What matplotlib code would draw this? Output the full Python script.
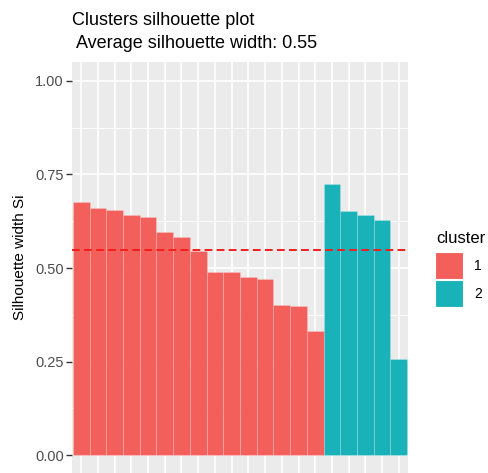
import numpy as np
import matplotlib.pyplot as plt
from matplotlib.patches import Rectangle

# Silhouette widths per observation, sorted within each cluster
sil_cluster1 = [0.675, 0.660, 0.655, 0.642, 0.635, 0.597, 0.584, 0.546,
                0.490, 0.490, 0.476, 0.470, 0.402, 0.398, 0.333]
sil_cluster2 = [0.723, 0.653, 0.641, 0.629, 0.258]
cluster_names = ["1", "2"]
y_ticks = [0.00, 0.25, 0.50, 0.75, 1.00]
title_lines = ["Clusters silhouette plot", " Average silhouette width: 0.55"]

plt.rcParams['font.family'] = ['Liberation Sans', 'DejaVu Sans']

fill = {"1": "#F3605B", "2": "#18B2B8"}
panel_bg = "#EBEBEB"

widths = np.array(sil_cluster1 + sil_cluster2)
labels = ["1"] * len(sil_cluster1) + ["2"] * len(sil_cluster2)
x = np.arange(1, len(widths) + 1)
avg = widths.mean()

fig = plt.figure(figsize=(4.88, 4.73), dpi=100)
ax = fig.add_axes([72 / 488, -1 / 473, 336 / 488, 412 / 473])
ax.set_facecolor(panel_bg)

# grid (ggplot-like)
ax.set_yticks(y_ticks)
ax.set_yticks([0.125, 0.375, 0.625, 0.875], minor=True)
ax.set_xticks(x)
ax.grid(which="major", color="white", lw=1.2)
ax.grid(which="minor", axis="y", color="white", lw=0.6)
ax.set_axisbelow(True)

ax.bar(x, widths, width=1.0, color=[fill[c] for c in labels],
       edgecolor=(1, 1, 1, 0.25), linewidth=0.5)
ax.axhline(avg, color="#F41E1E", ls=(0, (4, 2.2)), lw=1.4)

ax.set_xlim(0.45, len(widths) + 0.55)
ax.set_ylim(-0.05, 1.05)
for s in ax.spines.values():
    s.set_visible(False)
ax.set_yticklabels([f"{t:.2f}" for t in y_ticks])
ax.set_xticklabels([])
ax.tick_params(axis="y", which="major", length=4, width=1, color="#333333",
               labelcolor="#4D4D4D", labelsize=10.5, pad=2)
ax.tick_params(axis="y", which="minor", length=0)
ax.tick_params(axis="x", length=3, color="#333333")
ax.set_ylabel("Silhouette width Si", fontsize=11, color="black")
ax.yaxis.set_label_coords(-45 / 336, (474 - 257) / 412)

# two-line title, placed by baseline
for line, base in zip(title_lines, [25, 48]):
    fig.text(72 / 488, 1 - base / 473, line, fontsize=13,
             ha="left", va="baseline")

# legend
fig.text(436 / 488, 1 - 243 / 473, "cluster", fontsize=12, ha="left", va="baseline")
for i, name in enumerate(cluster_names):
    y0 = 252 + i * 28
    fig.patches.append(Rectangle((435 / 488, 1 - (y0 + 27) / 473), 28 / 488, 27 / 473,
                                 transform=fig.transFigure, facecolor=fill[name],
                                 edgecolor="white", lw=0.8))
    fig.text(474 / 488, 1 - (y0 + 13.5) / 473, name, fontsize=10,
             ha="left", va="center", color="black")

fig.savefig("out.png", dpi=100)
